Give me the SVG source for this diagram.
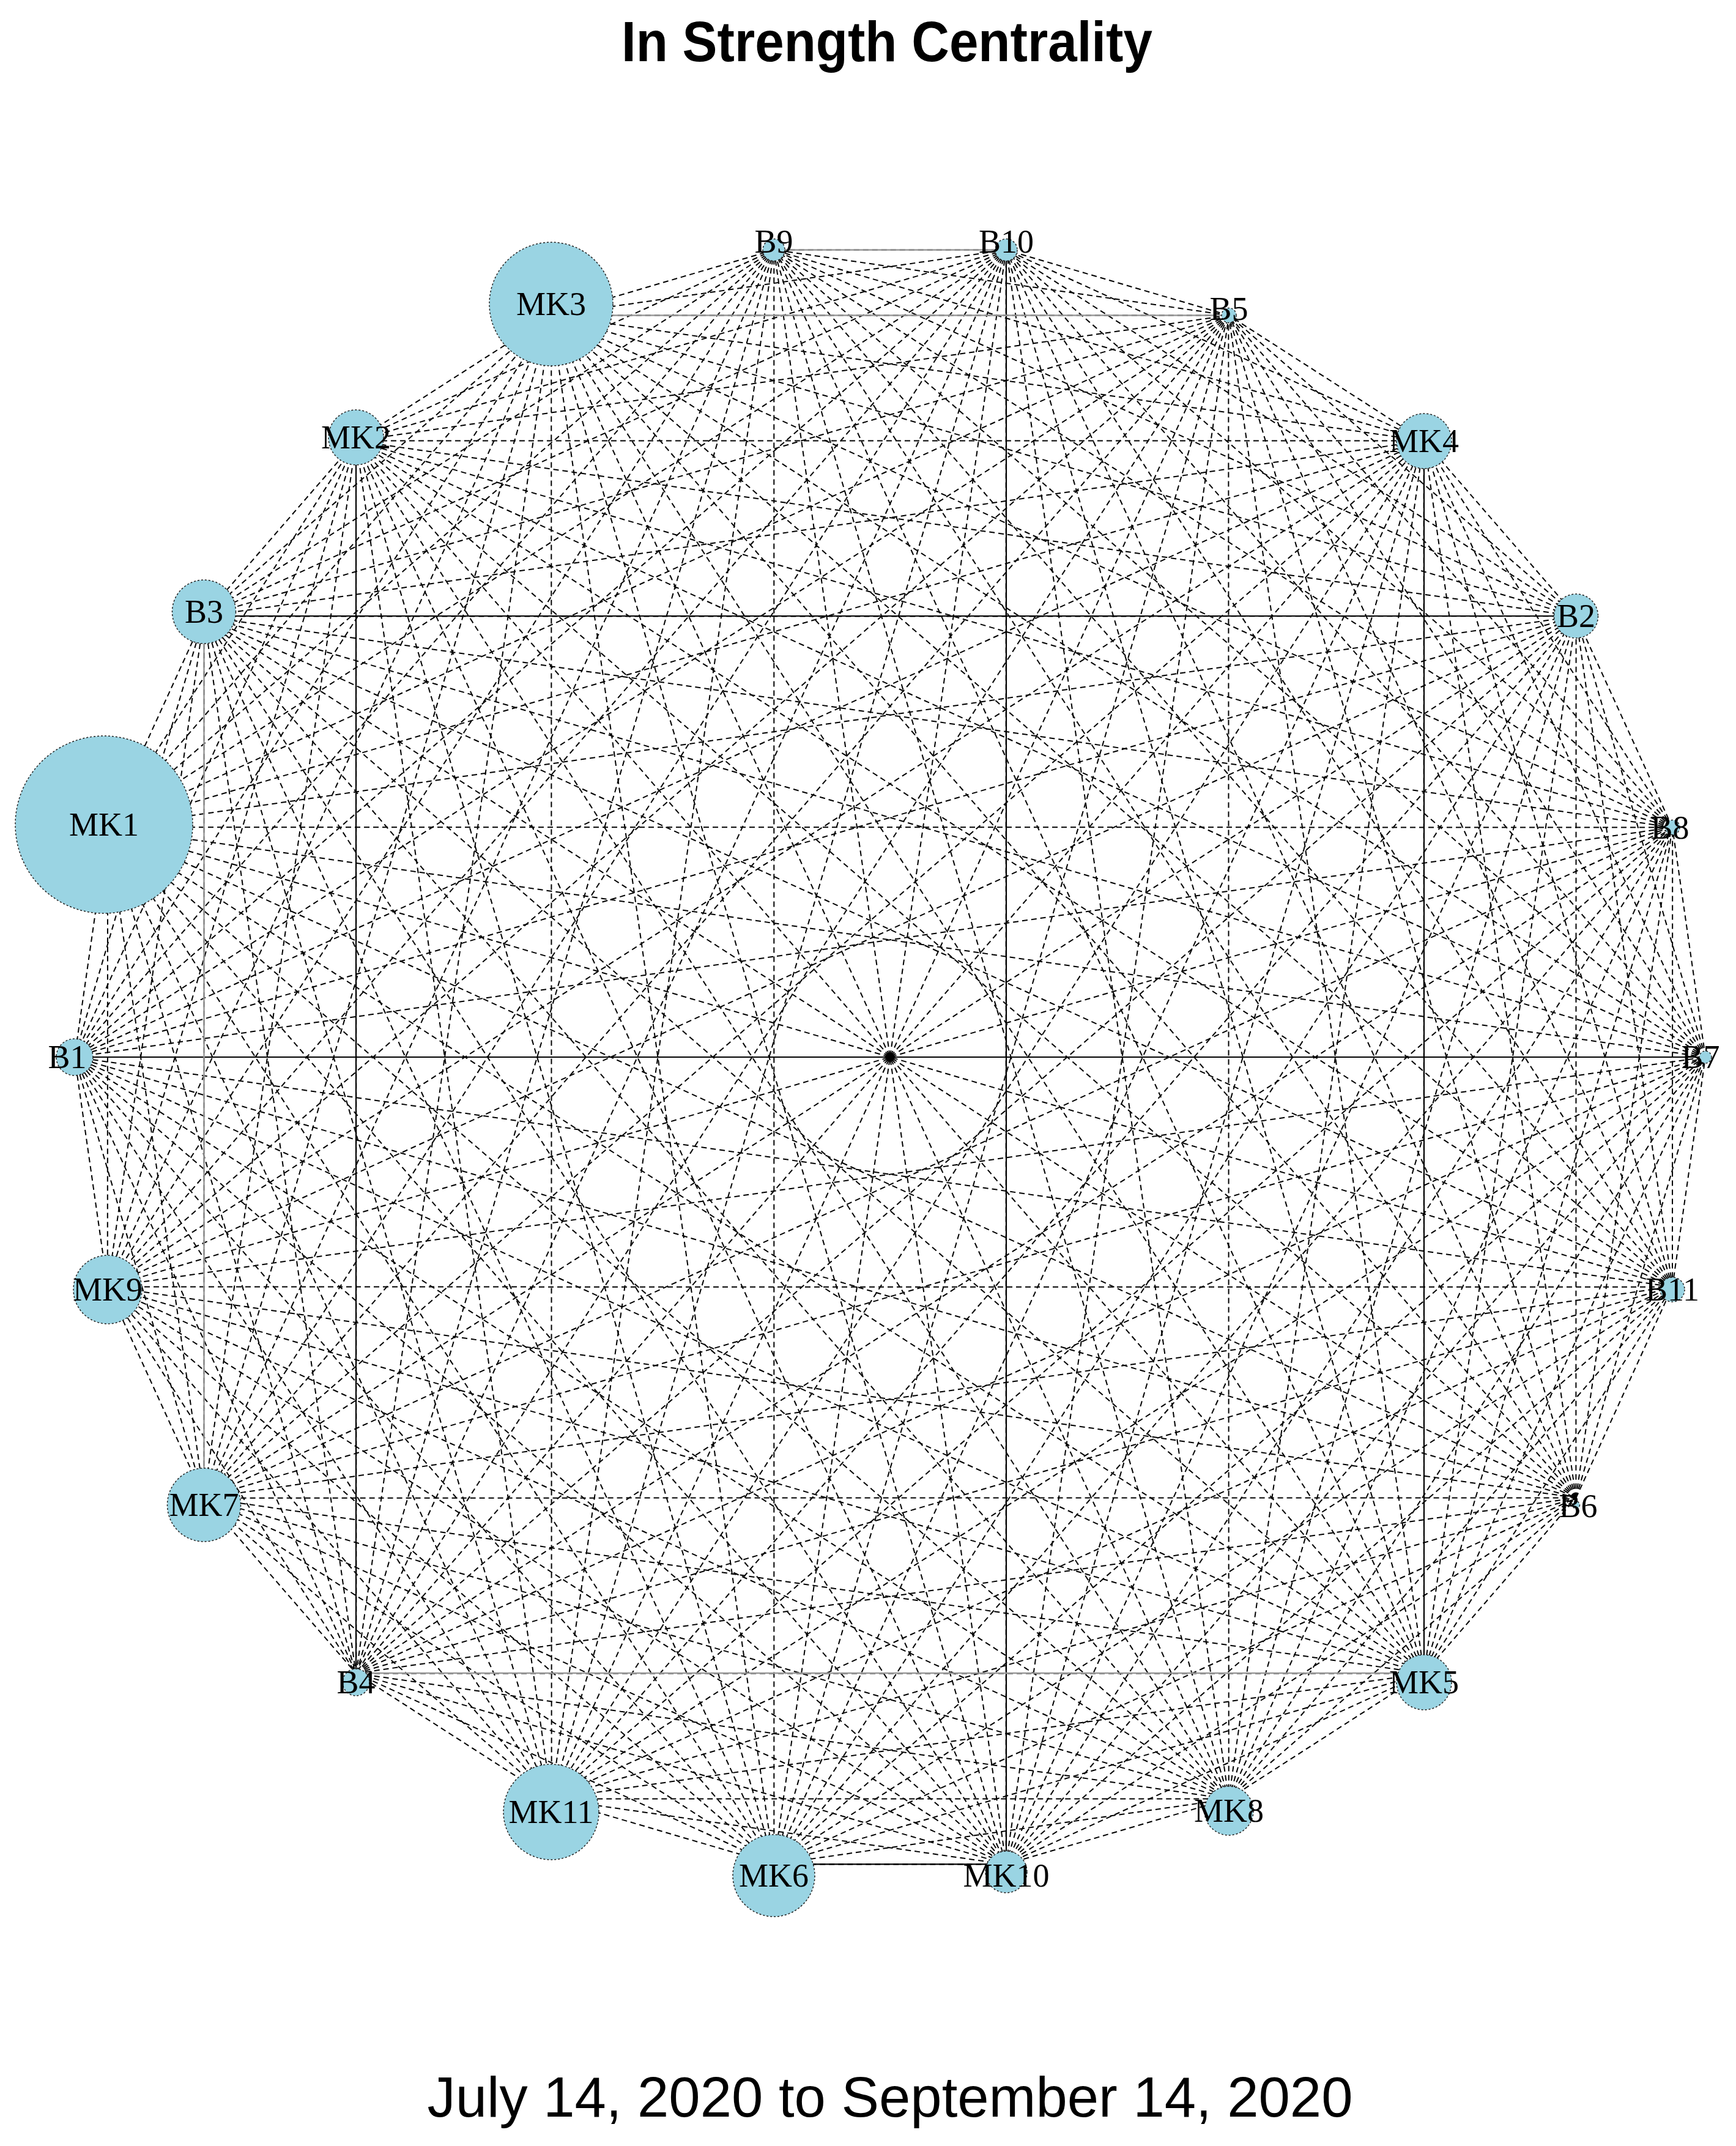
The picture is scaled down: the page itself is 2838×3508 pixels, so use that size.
<svg xmlns="http://www.w3.org/2000/svg" xmlns:xlink="http://www.w3.org/1999/xlink" width="2838" height="3508" viewBox="0 0 2838 3508">
<style>
.e{stroke:#000;stroke-width:2;stroke-dasharray:9 6;fill:none}
.s{stroke:#000;stroke-width:2.2;fill:none}
.g{stroke:#999;stroke-width:2.5;fill:none}
.n{fill:#9AD4E3;stroke:#222;stroke-width:1.5;stroke-dasharray:3 3}
.l{font-family:"Liberation Serif",serif;font-size:54px;fill:#000;text-anchor:middle;dominant-baseline:central}
</style>
<defs>
<g id="fan">
<line class="e" x1="2788" y1="1728" x2="2734" y2="1352.5"/>
<line class="e" x1="2788" y1="1728" x2="2576.5" y2="1007"/>
<line class="e" x1="2788" y1="1728" x2="2328" y2="721"/>
<line class="e" x1="2788" y1="1728" x2="2009" y2="515.5"/>
<line class="e" x1="2788" y1="1728" x2="1645" y2="408.6"/>
<line class="e" x1="2788" y1="1728" x2="1265" y2="408.6"/>
<line class="e" x1="2788" y1="1728" x2="901" y2="515.5"/>
<line class="e" x1="2788" y1="1728" x2="582" y2="721"/>
<line class="e" x1="2788" y1="1728" x2="333.5" y2="1007"/>
<line class="e" x1="2788" y1="1728" x2="176" y2="1352.5"/>
</g>
<line id="dia" class="e" x1="2788" y1="1728" x2="122" y2="1728"/>
</defs>
<rect width="2838" height="3508" fill="#fff"/>
<text x="1450" y="100" font-family="Liberation Sans,Arial,sans-serif" font-weight="bold" font-size="92" text-anchor="middle" textLength="868" lengthAdjust="spacingAndGlyphs">In Strength Centrality</text>
<g id="connectors">
<use xlink:href="#fan"/>
<use xlink:href="#fan" transform="rotate(16.3636 1455 1728)"/>
<use xlink:href="#fan" transform="rotate(32.7273 1455 1728)"/>
<use xlink:href="#fan" transform="rotate(49.0909 1455 1728)"/>
<use xlink:href="#fan" transform="rotate(65.4545 1455 1728)"/>
<use xlink:href="#fan" transform="rotate(81.8182 1455 1728)"/>
<use xlink:href="#fan" transform="rotate(98.1818 1455 1728)"/>
<use xlink:href="#fan" transform="rotate(114.5455 1455 1728)"/>
<use xlink:href="#fan" transform="rotate(130.9091 1455 1728)"/>
<use xlink:href="#fan" transform="rotate(147.2727 1455 1728)"/>
<use xlink:href="#fan" transform="rotate(163.6364 1455 1728)"/>
<use xlink:href="#fan" transform="rotate(180 1455 1728)"/>
<use xlink:href="#fan" transform="rotate(196.3636 1455 1728)"/>
<use xlink:href="#fan" transform="rotate(212.7273 1455 1728)"/>
<use xlink:href="#fan" transform="rotate(229.0909 1455 1728)"/>
<use xlink:href="#fan" transform="rotate(245.4545 1455 1728)"/>
<use xlink:href="#fan" transform="rotate(261.8182 1455 1728)"/>
<use xlink:href="#fan" transform="rotate(278.1818 1455 1728)"/>
<use xlink:href="#fan" transform="rotate(294.5455 1455 1728)"/>
<use xlink:href="#fan" transform="rotate(310.9091 1455 1728)"/>
<use xlink:href="#fan" transform="rotate(327.2727 1455 1728)"/>
<use xlink:href="#fan" transform="rotate(343.6364 1455 1728)"/>
<use xlink:href="#dia"/>
<use xlink:href="#dia" transform="rotate(16.3636 1455 1728)"/>
<use xlink:href="#dia" transform="rotate(32.7273 1455 1728)"/>
<use xlink:href="#dia" transform="rotate(49.0909 1455 1728)"/>
<use xlink:href="#dia" transform="rotate(65.4545 1455 1728)"/>
<use xlink:href="#dia" transform="rotate(81.8182 1455 1728)"/>
<use xlink:href="#dia" transform="rotate(98.1818 1455 1728)"/>
<use xlink:href="#dia" transform="rotate(114.5455 1455 1728)"/>
<use xlink:href="#dia" transform="rotate(130.9091 1455 1728)"/>
<use xlink:href="#dia" transform="rotate(147.2727 1455 1728)"/>
<use xlink:href="#dia" transform="rotate(163.6364 1455 1728)"/>
<line class="s" x1="122" y1="1728" x2="2788" y2="1728"/>
<line class="s" x1="333.5" y1="1007" x2="2576.5" y2="1007"/>
<line class="s" x1="582" y1="721" x2="582" y2="2735"/>
<line class="s" x1="1645" y1="408.6" x2="1645" y2="3047.4"/>
<line class="s" x1="2328" y1="721" x2="2328" y2="2735"/>
<line class="s" x1="1265" y1="3047.4" x2="1645" y2="3047.4"/>
<line class="g" x1="901" y1="515.5" x2="2009" y2="515.5"/>
<line class="g" x1="1265" y1="408.6" x2="1645" y2="408.6"/>
<line class="g" x1="333.5" y1="1007" x2="333.5" y2="2449"/>
<line class="g" x1="582" y1="2735" x2="2328" y2="2735"/>
</g>
<circle cx="1455" cy="1728" r="7" fill="#000"/>
<g id="B7"><circle class="n" cx="2788" cy="1728" r="10"/><text class="l" x="2780" y="1728">B7</text></g>
<g id="B8"><circle class="n" cx="2734" cy="1352.5" r="12"/><text class="l" x="2730" y="1352.5">B8</text></g>
<g id="B2"><circle class="n" cx="2576.5" cy="1007" r="36"/><text class="l" x="2576.5" y="1007">B2</text></g>
<g id="MK4"><circle class="n" cx="2328" cy="721" r="45"/><text class="l" x="2328" y="721">MK4</text></g>
<g id="B5"><circle class="n" cx="2009" cy="515.5" r="12"/><text class="l" x="2009" y="505">B5</text></g>
<g id="B10"><circle class="n" cx="1645" cy="408.6" r="18"/><text class="l" x="1645" y="395">B10</text></g>
<g id="B9"><circle class="n" cx="1265" cy="408.6" r="18"/><text class="l" x="1265" y="395">B9</text></g>
<g id="MK3"><circle class="n" cx="901" cy="497" r="101"/><text class="l" x="901" y="497">MK3</text></g>
<g id="MK2"><circle class="n" cx="582" cy="715" r="45"/><text class="l" x="582" y="715">MK2</text></g>
<g id="B3"><circle class="n" cx="333.5" cy="1000" r="52"/><text class="l" x="333.5" y="1000">B3</text></g>
<g id="MK1"><circle class="n" cx="170" cy="1348" r="145"/><text class="l" x="170" y="1348">MK1</text></g>
<g id="B1"><circle class="n" cx="122" cy="1728" r="30"/><text class="l" x="110" y="1728">B1</text></g>
<g id="MK9"><circle class="n" cx="176" cy="2108" r="56"/><text class="l" x="176" y="2108">MK9</text></g>
<g id="MK7"><circle class="n" cx="333.5" cy="2460" r="60"/><text class="l" x="333.5" y="2460">MK7</text></g>
<g id="B4"><circle class="n" cx="582" cy="2750" r="22"/><text class="l" x="582" y="2750">B4</text></g>
<g id="MK11"><circle class="n" cx="901" cy="2962" r="78"/><text class="l" x="901" y="2962">MK11</text></g>
<g id="MK6"><circle class="n" cx="1265" cy="3066" r="67"/><text class="l" x="1265" y="3066">MK6</text></g>
<g id="MK10"><circle class="n" cx="1645" cy="3060" r="34"/><text class="l" x="1645" y="3066">MK10</text></g>
<g id="MK8"><circle class="n" cx="2009" cy="2960" r="40"/><text class="l" x="2009" y="2960">MK8</text></g>
<g id="MK5"><circle class="n" cx="2328" cy="2750" r="45"/><text class="l" x="2328" y="2750">MK5</text></g>
<g id="B6"><circle class="n" cx="2576.5" cy="2460" r="6"/><text class="l" x="2580" y="2462">B6</text></g>
<g id="B11"><circle class="n" cx="2734" cy="2108" r="20"/><text class="l" x="2734" y="2108">B11</text></g>
<text x="1455" y="3460" font-family="Liberation Sans,Arial,sans-serif" font-size="93" text-anchor="middle" textLength="1513" lengthAdjust="spacingAndGlyphs">July 14, 2020 to September 14, 2020</text>
</svg>
